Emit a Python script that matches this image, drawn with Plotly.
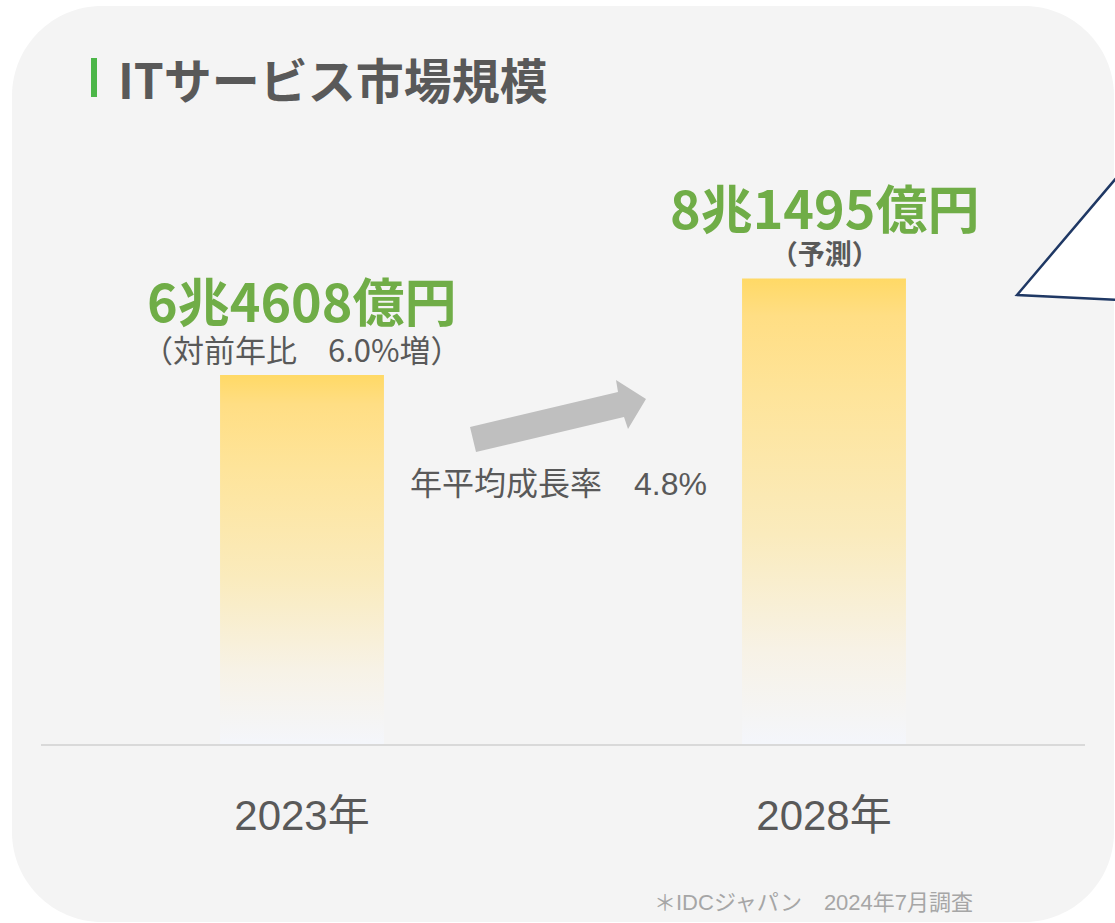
import plotly.graph_objects as go

# ---------------- data ----------------
years = ["2023年", "2028年"]
market_size = [6.4608, 8.1495]          # 兆円
value_labels = ["6兆4608億円", "8兆1495億円"]
sub_labels = ["（対前年比　6.0%増）", "（予測）"]
sub_bold = [False, True]
cagr_label = "年平均成長率　4.8%"
title_text = "ITサービス市場規模"
source_text = "＊IDCジャパン　2024年7月調査"

# ---------------- geometry helpers ----------------
W, H = 1115, 923
def px(x):
    return x / W
def py(y):
    return 1 - y / H

FONT = "Noto Sans CJK JP"
FONT_MIX = "Liberation Sans, Noto Sans CJK JP"
GRAY = "#595959"
GREEN = "#70ad47"

bar_width = 0.314
grad = [[0.0, "#f4f6fb"], [0.2, "#f7f2e6"], [0.45, "#faebbd"],
        [0.75, "#fee49a"], [0.92, "#ffde84"], [1.0, "#ffd966"]]

fig = go.Figure()
for i, v in enumerate(market_size):
    xs = [i - bar_width / 2, i + bar_width / 2, i + bar_width / 2, i - bar_width / 2, i - bar_width / 2]
    ys = [0, 0, v, v, 0]
    fig.add_trace(go.Scatter(
        x=xs, y=ys, mode="lines", fill="toself",
        line=dict(width=0, color="rgba(0,0,0,0)"),
        fillgradient=dict(type="vertical", colorscale=grad),
        hoverinfo="skip", showlegend=False,
    ))

# value labels (value + sub label in one text block)
for i, v in enumerate(market_size):
    sub_size = 27 if sub_bold[i] else 31
    sub = f"<b>{sub_labels[i]}</b>" if sub_bold[i] else sub_labels[i]
    txt = (f"<span style='font-size:52px;color:{GREEN}'><b>{value_labels[i]}</b></span>"
           f"<br><span style='color:{GRAY}'>{sub}</span>")
    fig.add_annotation(x=i, y=v, text=txt, showarrow=False,
                       yanchor="bottom", yshift=5 if sub_bold[i] else 2, align="center",
                       font=dict(family=FONT, size=sub_size, color=GRAY))

# shapes: background panel
r = 90
k = 0.5523 * r
x0, y0, x1, y1 = 12, 6, 1114, 922
pts = (
    f"M {px(x0 + r)},{py(y0)} L {px(x1 - r)},{py(y0)} "
    f"C {px(x1 - r + k)},{py(y0)} {px(x1)},{py(y0 + r - k)} {px(x1)},{py(y0 + r)} "
    f"L {px(x1)},{py(y1 - r)} "
    f"C {px(x1)},{py(y1 - r + k)} {px(x1 - r + k)},{py(y1)} {px(x1 - r)},{py(y1)} "
    f"L {px(x0 + r)},{py(y1)} "
    f"C {px(x0 + r - k)},{py(y1)} {px(x0)},{py(y1 - r + k)} {px(x0)},{py(y1 - r)} "
    f"L {px(x0)},{py(y0 + r)} "
    f"C {px(x0)},{py(y0 + r - k)} {px(x0 + r - k)},{py(y0)} {px(x0 + r)},{py(y0)} Z"
)
fig.add_shape(type="path", path=pts, xref="paper", yref="paper",
              fillcolor="#f4f4f4", line=dict(width=0), layer="below")

# title accent bar
fig.add_shape(type="rect", xref="paper", yref="paper",
              x0=px(91), x1=px(97), y0=py(97), y1=py(58),
              fillcolor="#4cb648", line=dict(width=0))

# growth arrow
arrow = [(470, 427), (618, 392), (616, 380), (646, 399), (628, 429), (624, 417), (476, 452)]
path = "M " + " L ".join(f"{px(a)},{py(b)}" for a, b in arrow) + " Z"
fig.add_shape(type="path", path=path, xref="paper", yref="paper",
              fillcolor="#bfbfbf", line=dict(width=0))

# speech-bubble triangle (top right)
tri = [(1017, 295), (1140, 150), (1140, 301)]
path = "M " + " L ".join(f"{px(a)},{py(b)}" for a, b in tri) + " Z"
fig.add_shape(type="path", path=path, xref="paper", yref="paper",
              fillcolor="white", line=dict(width=2.5, color="#1f3864"))

# title, cagr, source
fig.add_annotation(xref="paper", yref="paper", x=px(116), y=py(78),
                   xanchor="left", yanchor="middle", showarrow=False,
                   text=title_text,
                   font=dict(family=FONT, size=48, color=GRAY, weight="bold"))
fig.add_annotation(xref="paper", yref="paper", x=px(558), y=py(484),
                   xanchor="center", yanchor="middle", showarrow=False,
                   text=cagr_label,
                   font=dict(family=FONT_MIX, size=32, color=GRAY))
fig.add_annotation(xref="paper", yref="paper", x=px(813), y=py(902),
                   xanchor="center", yanchor="middle", showarrow=False,
                   text=source_text,
                   font=dict(family=FONT_MIX, size=22, color="#a6a6a6"))

# axes
scale = 369 / market_size[0]        # px per unit
y_base = 744
y_top_val = 10
y_top_px = y_base - scale * y_top_val

fig.update_layout(
    width=W, height=H,
    margin=dict(l=0, r=0, t=0, b=0),
    paper_bgcolor="white", plot_bgcolor="rgba(0,0,0,0)",
    showlegend=False,
    xaxis=dict(domain=[px(41), px(1085)], range=[-0.5, 1.5],
               tickvals=list(range(len(years))), ticktext=years,
               showgrid=False, zeroline=False, showline=True,
               linecolor="#d9d9d9", linewidth=2, ticks="",
               ticklabelstandoff=34,
               tickfont=dict(family=FONT_MIX, size=42, color=GRAY),
               fixedrange=True),
    yaxis=dict(domain=[py(y_base), py(y_top_px)], range=[0, y_top_val],
               visible=False, fixedrange=True),
)

fig.write_html("out.html", config={"displayModeBar": False},
               post_script="document.body.style.margin='0';document.body.style.overflow='hidden';")
